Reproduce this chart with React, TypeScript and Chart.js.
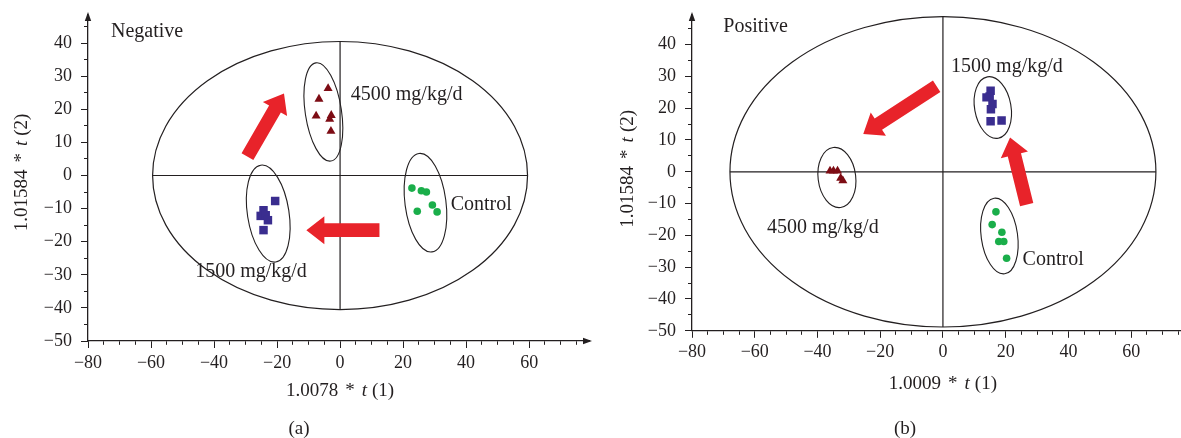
import React, { useEffect, useRef } from 'react';
import { Chart, registerables } from 'chart.js';

Chart.register(...registerables);

// ---------- data: panel (a) Negative ----------
const negTriX = [-3.8, -6.7, -7.6, -2.8, -3.3, -2.9];
const negTriY = [26.3, 23.1, 18.0, 18.2, 17.0, 13.4];
const negSqX = [-20.6, -24.3, -25.2, -23.6, -22.9, -24.3];
const negSqY = [-7.7, -10.5, -12.2, -12.0, -13.5, -16.5];
const negCirX = [22.8, 25.8, 27.4, 29.3, 24.5, 30.8];
const negCirY = [-3.8, -4.6, -5.0, -8.9, -10.8, -11.0];

// ---------- data: panel (b) Positive ----------
const posTriX = [-36.0, -34.9, -33.6, -32.6, -31.9];
const posTriY = [0.3, 0.3, 0.3, -2.0, -2.8];
const posSqX = [15.2, 14.9, 13.9, 15.8, 15.3, 15.2, 18.7];
const posSqY = [25.5, 23.7, 23.4, 21.3, 19.7, 15.9, 16.1];
const posCirX = [16.9, 15.7, 18.8, 17.8, 19.4, 20.3];
const posCirY = [-12.6, -16.6, -19.0, -21.9, -21.9, -27.2];

// ---------- tick labels ----------
const xTickValues = [-80, -60, -40, -20, 0, 20, 40, 60];
const yTickValues = [-50, -40, -30, -20, -10, 0, 10, 20, 30, 40];

// ---------- annotations (data units) ----------
const negEllipses = [
  { cx: 0, cy: 0, rx: 59.5, ry: 40.5, rot: 0 },
  { cx: -5.3, cy: 19.2, rx: 5.75, ry: 15.0, rot: -8.7 },
  { cx: -22.8, cy: -11.5, rx: 6.6, ry: 14.8, rot: -8.8 },
  { cx: 27.1, cy: -8.2, rx: 6.5, ry: 15.0, rot: -7.5 },
];
const posEllipses = [
  { cx: 0, cy: 0, rx: 67.9, ry: 48.8, rot: 0 },
  { cx: -33.8, cy: -1.8, rx: 6.0, ry: 9.5, rot: -7 },
  { cx: 15.9, cy: 20.2, rx: 5.8, ry: 9.8, rot: -10 },
  { cx: 18.0, cy: -20.2, rx: 5.8, ry: 12.0, rot: -8 },
];
const negArrows = [
  { x1: -29.4, y1: 5.7, x2: -17.8, y2: 24.8 },
  { x1: 12.5, y1: -16.5, x2: -10.7, y2: -16.5 },
];
const posArrows = [
  { x1: -2.0, y1: 26.9, x2: -25.4, y2: 11.9 },
  { x1: 26.7, y1: -10.3, x2: 21.4, y2: 10.8 },
];
const negLabels = [
  { text: 'Negative', x: -72.7, y: 41.9 },
  { text: '4500 mg/kg/d', x: 3.4, y: 22.8 },
  { text: 'Control', x: 35.1, y: -10.5 },
  { text: '1500 mg/kg/d', x: -46, y: -30.6 },
];
const posLabels = [
  { text: 'Positive', x: -70, y: 44 },
  { text: '1500 mg/kg/d', x: 2.6, y: 31.3 },
  { text: '4500 mg/kg/d', x: -56.1, y: -19.2 },
  { text: 'Control', x: 25.4, y: -29.4 },
];

const INK = '#231f20';
const TRI = '#7d0c14';
const SQ = '#3a2d8f';
const CIR = '#1aae4a';
const RED = '#e8232a';
const FAMILY = '"Liberation Serif", "Times New Roman", serif';

const fmt = (v: number) => (v < 0 ? '\u2212' + Math.abs(v) : String(v));

function toPts(xs: number[], ys: number[]) {
  return xs.map((x, i) => ({ x, y: ys[i] }));
}

function drawRich(ctx: CanvasRenderingContext2D, parts: { t: string; f: string; g?: number }[], cx: number, cy: number, rotate: boolean) {
  ctx.save();
  ctx.translate(cx, cy);
  if (rotate) ctx.rotate(-Math.PI / 2);
  ctx.fillStyle = INK;
  ctx.textBaseline = 'middle';
  ctx.textAlign = 'left';
  let total = 0;
  const ws = parts.map((p) => {
    ctx.font = p.f;
    const w = ctx.measureText(p.t).width + (p.g || 0);
    total += w;
    return w;
  });
  let xx = -total / 2;
  parts.forEach((p, i) => {
    ctx.font = p.f;
    ctx.fillText(p.t, xx, 0);
    xx += ws[i];
  });
  ctx.restore();
}

function makeDecor(cfg: any) {
  return {
    id: 'decor',
    beforeDatasetsDraw(chart: any) {
      const { ctx, scales } = chart;
      const x = scales.x;
      const y = scales.y;
      const xpu = Math.abs(x.getPixelForValue(1) - x.getPixelForValue(0));
      const ypu = Math.abs(y.getPixelForValue(0) - y.getPixelForValue(1));
      ctx.save();
      ctx.strokeStyle = INK;
      ctx.lineWidth = 1.2;
      const big = cfg.ellipses[0];
      ctx.beginPath();
      ctx.moveTo(x.getPixelForValue(big.cx - big.rx), y.getPixelForValue(0));
      ctx.lineTo(x.getPixelForValue(big.cx + big.rx), y.getPixelForValue(0));
      ctx.moveTo(x.getPixelForValue(0), y.getPixelForValue(big.cy + big.ry));
      ctx.lineTo(x.getPixelForValue(0), y.getPixelForValue(big.cy - big.ry));
      ctx.stroke();
      cfg.ellipses.forEach((e: any, i: number) => {
        ctx.lineWidth = i === 0 ? 1.2 : 1.1;
        ctx.beginPath();
        ctx.ellipse(x.getPixelForValue(e.cx), y.getPixelForValue(e.cy), e.rx * xpu, e.ry * ypu, (e.rot * Math.PI) / 180, 0, Math.PI * 2);
        ctx.stroke();
      });
      // red arrows
      ctx.fillStyle = RED;
      cfg.arrows.forEach((a: any) => {
        const px1 = x.getPixelForValue(a.x1);
        const py1 = y.getPixelForValue(a.y1);
        const px2 = x.getPixelForValue(a.x2);
        const py2 = y.getPixelForValue(a.y2);
        const L = Math.hypot(px2 - px1, py2 - py1);
        const ux = (px2 - px1) / L;
        const uy = (py2 - py1) / L;
        const nx = -uy;
        const ny = ux;
        const sw = 6.8;
        const hw = 14;
        const hl = 18;
        const bx = px2 - ux * hl;
        const by = py2 - uy * hl;
        ctx.beginPath();
        ctx.moveTo(px1 + nx * sw, py1 + ny * sw);
        ctx.lineTo(bx + nx * sw, by + ny * sw);
        ctx.lineTo(bx + nx * hw, by + ny * hw);
        ctx.lineTo(px2, py2);
        ctx.lineTo(bx - nx * hw, by - ny * hw);
        ctx.lineTo(bx - nx * sw, by - ny * sw);
        ctx.lineTo(px1 - nx * sw, py1 - ny * sw);
        ctx.closePath();
        ctx.fill();
      });
      ctx.restore();
    },
    afterDraw(chart: any) {
      const { ctx, scales, chartArea } = chart;
      const x = scales.x;
      const y = scales.y;
      ctx.save();
      // labels
      ctx.fillStyle = INK;
      ctx.font = '20px ' + FAMILY;
      ctx.textAlign = 'left';
      ctx.textBaseline = 'alphabetic';
      cfg.labels.forEach((l: any) => {
        ctx.fillText(l.text, x.getPixelForValue(l.x), y.getPixelForValue(l.y));
      });
      // axis arrowheads
      ctx.fillStyle = INK;
      ctx.beginPath();
      ctx.moveTo(chartArea.left, chartArea.top - 3);
      ctx.lineTo(chartArea.left - 3.2, chartArea.top + 6);
      ctx.lineTo(chartArea.left + 3.2, chartArea.top + 6);
      ctx.closePath();
      ctx.fill();
      if (cfg.xArrow) {
        ctx.beginPath();
        ctx.moveTo(chartArea.right + 3, chartArea.bottom);
        ctx.lineTo(chartArea.right - 6, chartArea.bottom - 3.2);
        ctx.lineTo(chartArea.right - 6, chartArea.bottom + 3.2);
        ctx.closePath();
        ctx.fill();
      }
      ctx.restore();
      const reg = '19px ' + FAMILY;
      const ita = 'italic 19px ' + FAMILY;
      drawRich(ctx, [{ t: cfg.xTitle, f: reg, g: 7 }, { t: '*', f: reg, g: 7 }, { t: 't', f: ita, g: 5 }, { t: '(1)', f: reg }], x.getPixelForValue(0), cfg.xTitleY, false);
      drawRich(ctx, [{ t: '1.01584', f: reg, g: 7 }, { t: '*', f: reg, g: 7 }, { t: 't', f: ita, g: 5 }, { t: '(2)', f: reg }], cfg.yTitleX, y.getPixelForValue(0) - 3, true);
      drawRich(ctx, [{ t: cfg.caption, f: '19px ' + FAMILY }], cfg.captionX, 429, false);
    },
  };
}

function makeConfig(p: any) {
  return {
    type: 'scatter',
    data: {
      datasets: [
        { label: '4500 mg/kg/d', data: p.tri, pointStyle: 'triangle', pointRadius: 5.2, backgroundColor: TRI, borderWidth: 0 },
        { label: '1500 mg/kg/d', data: p.sq, pointStyle: 'rect', pointRadius: 6, backgroundColor: SQ, borderWidth: 0 },
        { label: 'Control', data: p.cir, pointStyle: 'circle', pointRadius: 3.8, backgroundColor: CIR, borderWidth: 0 },
      ],
    },
    options: {
      responsive: false,
      animation: false,
      devicePixelRatio: 1,
      events: [],
      layout: { padding: { left: 0, top: 15, right: p.padRight, bottom: 0 } },
      plugins: { legend: { display: false }, tooltip: { enabled: false } },
      scales: {
        x: {
          type: 'linear',
          position: 'bottom',
          min: -80,
          max: p.xMax,
          afterFit: (s: any) => {
            s.height = p.xAxisH;
            s.paddingLeft = 0;
            s.paddingRight = 0;
          },
          ticks: {
            stepSize: 5,
            autoSkip: false,
            maxRotation: 0,
            includeBounds: false,
            padding: 4,
            color: INK,
            font: { family: FAMILY, size: 18 },
            callback: (v: number) => (xTickValues.includes(v) ? fmt(v) : ''),
          },
          grid: {
            drawOnChartArea: false,
            tickLength: 7,
            tickColor: INK,
            tickWidth: 1,
            tickBorderDash: (c: any) => (c.tick && c.tick.value % 20 !== 0 ? [3.5, 100] : []),
          },
          border: { display: true, color: INK, width: 1.3 },
        },
        y: {
          type: 'linear',
          position: 'left',
          min: -50,
          max: p.yMax,
          afterFit: (s: any) => {
            s.width = p.yAxisW;
            s.paddingTop = 0;
            s.paddingBottom = 0;
          },
          ticks: {
            stepSize: 5,
            autoSkip: false,
            includeBounds: false,
            padding: 9,
            color: INK,
            font: { family: FAMILY, size: 18 },
            callback: (v: number) => (yTickValues.includes(v) ? fmt(v) : ''),
          },
          grid: {
            drawOnChartArea: false,
            tickLength: 7,
            tickColor: INK,
            tickWidth: 1,
            tickBorderDash: (c: any) => (c.tick && c.tick.value % 10 !== 0 ? [0, 3, 3.5, 100] : []),
          },
          border: { display: true, color: INK, width: 1.3 },
        },
      },
    },
    plugins: [makeDecor(p.decor)],
  };
}

function Panel(props: { p: any; left: number; width: number }) {
  const ref = useRef<HTMLCanvasElement | null>(null);
  useEffect(() => {
    const chart = new Chart(ref.current as HTMLCanvasElement, makeConfig(props.p) as any);
    return () => chart.destroy();
  }, []);
  return (
    <canvas
      ref={ref}
      width={props.width}
      height={438}
      style={{ position: 'absolute', left: props.left, top: 0, width: props.width, height: 438 }}
    />
  );
}

const panelA = {
  tri: toPts(negTriX, negTriY),
  sq: toPts(negSqX, negSqY),
  cir: toPts(negCirX, negCirY),
  xMax: 79.0,
  yMax: 48.5,
  padRight: 11,
  xAxisH: 97,
  yAxisW: 88,
  decor: {
    ellipses: negEllipses,
    arrows: negArrows,
    labels: negLabels,
    xArrow: true,
    xTitle: '1.0078',
    xTitleY: 391,
    yTitleX: 22,
    caption: '(a)',
    captionX: 299,
  },
};

const panelB = {
  tri: toPts(posTriX, posTriY),
  sq: toPts(posSqX, posSqY),
  cir: toPts(posCirX, posCirY),
  xMax: 75.9,
  yMax: 49.3,
  padRight: 0,
  xAxisH: 107.2,
  yAxisW: 92,
  decor: {
    ellipses: posEllipses,
    arrows: posArrows,
    labels: posLabels,
    xArrow: false,
    xTitle: '1.0009',
    xTitleY: 384,
    yTitleX: 28,
    caption: '(b)',
    captionX: 305,
  },
};

export default function App() {
  return (
    <div style={{ position: 'absolute', left: 0, top: 0, width: 1181, height: 438, overflow: 'hidden', background: '#fff' }}>
      <Panel p={panelA} left={0} width={600} />
      <Panel p={panelB} left={600} width={587} />
    </div>
  );
}
